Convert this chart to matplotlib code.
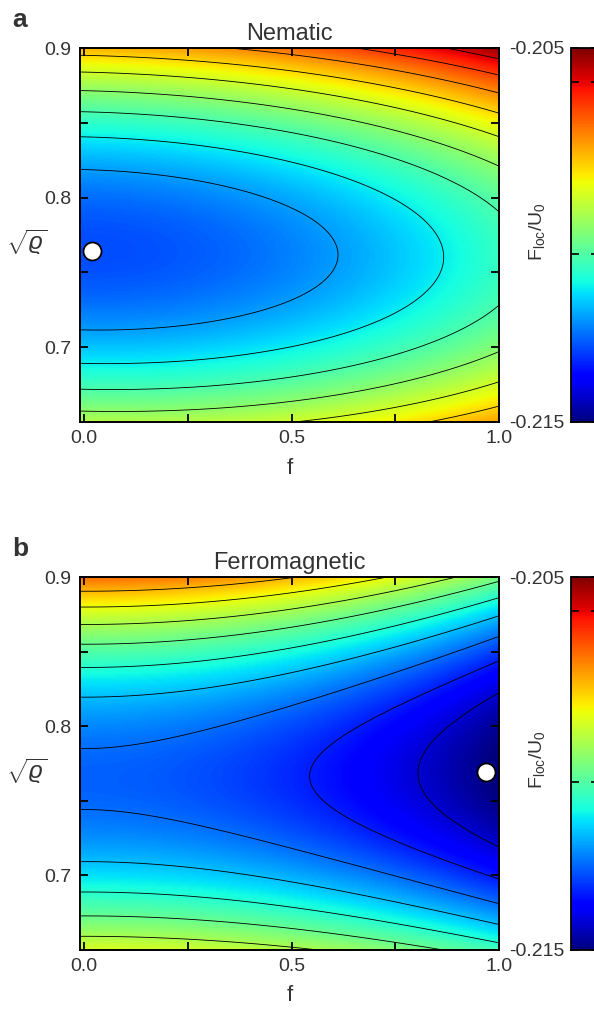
import numpy as np
import matplotlib
matplotlib.use('Agg')
import matplotlib.pyplot as plt

plt.rcParams['font.family'] = ['Liberation Sans', 'DejaVu Sans']
plt.rcParams['axes.unicode_minus'] = False
plt.rcParams['mathtext.fontset'] = 'custom'
plt.rcParams['mathtext.rm'] = 'Liberation Sans'
plt.rcParams['mathtext.it'] = 'Liberation Sans:italic'

# values: F_loc/U_0 along three columns (f = 0, 0.5, 1)
s_pts = [0.65, 0.675, 0.70, 0.725, 0.75, 0.775, 0.80, 0.825, 0.85, 0.875, 0.90]
f_cols = [0.0, 0.5, 1.0]

nem_f0 = [-0.20936, -0.21076, -0.21182, -0.21255, -0.21293, -0.21298,
          -0.21267, -0.21200, -0.21097, -0.20958, -0.20783]
nem_f05 = [-0.20901, -0.21037, -0.21139, -0.21207, -0.21242, -0.21242,
           -0.21207, -0.21136, -0.21028, -0.20885, -0.20706]
nem_f1 = [-0.20760, -0.20892, -0.20990, -0.21054, -0.21084, -0.21081,
          -0.21041, -0.20966, -0.20854, -0.20707, -0.20523]

fer_f0 = [-0.20887, -0.21039, -0.21154, -0.21232, -0.21272, -0.21277,
          -0.21242, -0.21167, -0.21054, -0.20901, -0.20709]
fer_f05 = [-0.20934, -0.21088, -0.21205, -0.21285, -0.21328, -0.21335,
           -0.21302, -0.21230, -0.21120, -0.20971, -0.20783]
fer_f1 = [-0.21073, -0.21234, -0.21358, -0.21444, -0.21494, -0.21507,
          -0.21482, -0.21419, -0.21319, -0.21180, -0.21005]

nem_levels = [-0.2122, -0.2114, -0.2106, -0.2098, -0.2090, -0.2082,
              -0.2074, -0.2066, -0.2058]
fer_levels = [-0.21427, -0.21347, -0.21267, -0.21187, -0.21107, -0.21027,
              -0.20947, -0.20867, -0.20787]

nem_dot = (0.019, 0.764)
fer_dot = (0.969, 0.769)

titles = ['Nematic', 'Ferromagnetic']
panel_tags = ['a', 'b']
cbar_ticks = [-0.215, -0.205]
cbar_ticklabels = ['-0.215', '-0.205']
cbar_minor = [-0.2105, -0.2059]
vmin, vmax = -0.215, -0.205
xlim = (-0.01, 1.0)
ylim = (0.65, 0.9)


def build_surface(columns, fg, sg):
    # smooth each column in s, then a quadratic in f through the columns
    per_col = np.array([np.polyval(np.polyfit(s_pts, c, 4), sg) for c in columns])
    cf = np.polyfit(f_cols, per_col, 2)
    ff = fg[None, :]
    return cf[0][:, None] * ff**2 + cf[1][:, None] * ff + cf[2][:, None]


fg = np.linspace(xlim[0], xlim[1], 300)
sg = np.linspace(ylim[0], ylim[1], 300)
FF, SS = np.meshgrid(fg, sg)

W, H = 594, 1011
fig = plt.figure(figsize=(W / 100, H / 100), dpi=100)

panels = [
    dict(cols=[nem_f0, nem_f05, nem_f1], levels=nem_levels, dot=nem_dot,
         top=48, bottom=422),
    dict(cols=[fer_f0, fer_f05, fer_f1], levels=fer_levels, dot=fer_dot,
         top=577, bottom=950),
]

grey = '#333333'
for i, p in enumerate(panels):
    y0 = (H - p['bottom']) / H
    hh = (p['bottom'] - p['top']) / H
    ax = fig.add_axes([80 / W, y0, 419 / W, hh])
    Z = build_surface(p['cols'], fg, sg)
    im = ax.imshow(Z, origin='lower', extent=[xlim[0], xlim[1], ylim[0], ylim[1]],
                   aspect='auto', cmap='jet', vmin=vmin, vmax=vmax,
                   interpolation='bilinear')
    ax.contour(FF, SS, Z, levels=p['levels'], colors='k', linewidths=0.6,
               linestyles='solid')
    ax.plot([p['dot'][0]], [p['dot'][1]], 'o', ms=13, mfc='white', mec='black',
            mew=1.3, zorder=5)
    ax.set_xlim(*xlim)
    ax.set_ylim(*ylim)

    ax.set_xticks([0.0, 0.5, 1.0])
    ax.set_xticklabels(['0.0', '0.5', '1.0'])
    ax.set_xticks([0.25, 0.75], minor=True)
    ax.set_yticks([0.7, 0.8, 0.9])
    ax.set_yticklabels(['0.7', '0.8', '0.9'])
    ax.set_yticks([0.75, 0.85], minor=True)
    ax.tick_params(which='both', direction='in', top=True, right=True,
                   length=6, width=1.3, color='k')
    ax.tick_params(which='major', labelsize=14, labelcolor=grey, pad=6)
    for sp in ax.spines.values():
        sp.set_linewidth(1.4)

    ax.set_title(titles[i], fontsize=17, color=grey, pad=6)
    ax.set_xlabel('f', fontsize=16, color=grey)
    ax.xaxis.set_label_coords(0.5, -0.095)
    ax.set_ylabel(r'$\sqrt{\varrho}$', fontsize=17, color=grey, rotation=0,
                  ha='center', va='center')
    ax.yaxis.set_label_coords(-0.127, 0.48)
    fig.text(20 / W, 1 - (p['top'] - 28) / H, panel_tags[i], fontsize=19,
             fontweight='bold', color=grey, ha='center', va='center')

    cax = fig.add_axes([571 / W, y0, 28 / W, hh])
    cb = fig.colorbar(im, cax=cax)
    cb.set_ticks(cbar_ticks)
    cb.set_ticklabels(cbar_ticklabels)
    cax.set_yticks(cbar_minor, minor=True)
    cax.tick_params(which='both', direction='in', left=True, right=True,
                    labelleft=True, labelright=False, length=6, width=1.2)
    cax.tick_params(which='major', labelsize=14, labelcolor=grey, pad=5)
    cb.outline.set_linewidth(1.3)
    cax.set_ylabel(r'F$_{\mathrm{loc}}$/U$_0$', fontsize=14, color=grey,
                   va='center')
    cax.yaxis.set_label_position('left')
    cax.yaxis.set_label_coords(-0.86, 0.51)

fig.savefig('out.png', dpi=100)
